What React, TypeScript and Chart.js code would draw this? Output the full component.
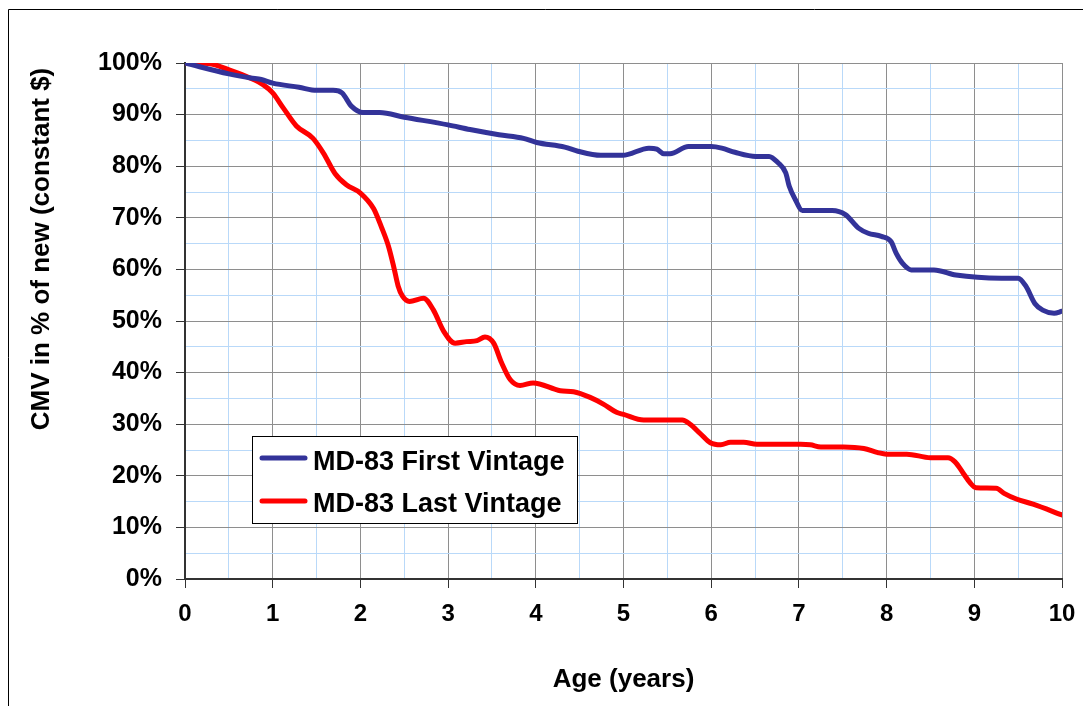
import React, { useEffect, useRef } from "react";
import { Chart, registerables } from "chart.js";

Chart.register(...registerables);

const FONT = "'Liberation Sans', Arial, Helvetica, sans-serif";

// Age in years and CMV as % of new (constant $)
const firstVintageAges = [
  0, 0.5, 0.75, 0.87, 1.0, 1.3, 1.5, 1.69, 1.79, 1.9, 2.03, 2.22, 2.5, 3.0, 3.25, 3.58, 3.86, 4.01,
  4.33, 4.48, 4.74, 4.99, 5.29, 5.38, 5.46, 5.53, 5.74, 6.0, 6.12, 6.27, 6.51, 6.66, 6.76, 6.85,
  6.89, 6.96, 7.04, 7.38, 7.53, 7.68, 7.79, 7.94, 8.05, 8.11, 8.18, 8.28, 8.54, 8.79, 9.31, 9.5,
  9.59, 9.69, 9.78, 9.91, 10.0,
];
const firstVintageValues = [
  100, 97.9, 97.1, 96.8, 96.1, 95.3, 94.7, 94.7, 94.2, 91.6, 90.4, 90.4, 89.5, 88.0, 87.1, 86.1, 85.4,
  84.6, 83.7, 82.9, 82.1, 82.1, 83.5, 83.3, 82.4, 82.4, 83.8, 83.8, 83.5, 82.7, 81.9, 81.9, 80.7,
  78.7, 76.1, 73.5, 71.4, 71.4, 70.6, 68.0, 67.0, 66.4, 65.4, 63.1, 61.2, 59.9, 59.9, 58.9, 58.3,
  58.3, 56.7, 53.4, 52.1, 51.5, 51.9,
];

const lastVintageAges = [
  0, 0.27, 0.51, 0.74, 0.89, 1.0, 1.12, 1.27, 1.46, 1.58, 1.71, 1.84, 2.0, 2.15, 2.24, 2.32, 2.38,
  2.43, 2.48, 2.56, 2.72, 2.83, 2.95, 3.08, 3.21, 3.33, 3.42, 3.52, 3.61, 3.71, 3.82, 3.97, 4.28,
  4.43, 4.62, 4.77, 4.92, 5.0, 5.23, 5.67, 5.76, 5.88, 5.99, 6.11, 6.22, 6.37, 6.52, 7.02, 7.13,
  7.25, 7.51, 7.74, 7.9, 8.0, 8.23, 8.5, 8.7, 8.78, 8.87, 8.95, 9.02, 9.25, 9.34, 9.48, 9.67, 10.0,
];
const lastVintageValues = [
  100, 99.9, 98.6, 97.1, 95.8, 94.2, 91.3, 87.8, 85.4, 82.5, 78.6, 76.4, 74.8, 71.8, 68.2, 64.5,
  60.5, 56.8, 54.8, 53.8, 54.4, 52.2, 48.0, 45.7, 46.0, 46.2, 46.9, 45.7, 41.9, 38.6, 37.5, 38.0,
  36.5, 36.3, 35.2, 33.9, 32.3, 31.9, 30.8, 30.8, 30.0, 28.1, 26.4, 26.0, 26.5, 26.5, 26.1, 26.1,
  26.0, 25.6, 25.6, 25.3, 24.5, 24.2, 24.2, 23.5, 23.5, 22.7, 20.6, 18.7, 17.7, 17.6, 16.6, 15.5,
  14.5, 12.4,
];

const seriesLabels = ["MD-83 First Vintage", "MD-83 Last Vintage"];
const seriesColors = ["#333399", "#FF0000"];

const xAxisTitle = "Age (years)";
const yAxisTitle = "CMV in % of new (constant $)";

const xMin = 0;
const xMax = 10;
const xStep = 0.5;
const yMin = 0;
const yMax = 100;
const yStep = 5;

const MAJOR_GRID = "#8e8e8e";
const MINOR_GRID = "#b9d9f9";
const AXIS_COLOR = "#333333";

const isMajor = (v: number, major: number) => Math.abs(v / major - Math.round(v / major)) < 1e-6;

const decorPlugin = {
  id: "decor",
  afterDraw(chart: any) {
    const ctx = chart.ctx as CanvasRenderingContext2D;
    ctx.save();
    // outer frame
    ctx.strokeStyle = "#000";
    ctx.lineWidth = 1;
    ctx.beginPath();
    ctx.moveTo(8.5, chart.height);
    ctx.lineTo(8.5, 9.5);
    ctx.lineTo(chart.width, 9.5);
    ctx.stroke();

    // y axis title
    ctx.save();
    ctx.translate(42, 249);
    ctx.rotate(-Math.PI / 2);
    ctx.font = `bold 26px ${FONT}`;
    ctx.fillStyle = "#000";
    ctx.textAlign = "center";
    ctx.textBaseline = "middle";
    ctx.fillText(yAxisTitle, 0, 0);
    ctx.restore();

    // legend
    const bx = 252.5, by = 436.5, bw = 325, bh = 87;
    ctx.fillStyle = "#fff";
    ctx.fillRect(bx, by, bw, bh);
    ctx.strokeStyle = "#000";
    ctx.lineWidth = 1;
    ctx.strokeRect(bx, by, bw, bh);
    const rows = [458, 501];
    const baselines = [470, 512];
    chart.data.datasets.forEach((ds: any, i: number) => {
      ctx.strokeStyle = ds.borderColor;
      ctx.lineWidth = 5;
      ctx.lineCap = "round";
      ctx.beginPath();
      ctx.moveTo(262, rows[i]);
      ctx.lineTo(305, rows[i]);
      ctx.stroke();
      ctx.fillStyle = "#000";
      ctx.font = `bold 27px ${FONT}`;
      ctx.textAlign = "left";
      ctx.textBaseline = "alphabetic";
      ctx.fillText(ds.label, 313, baselines[i]);
    });
    ctx.restore();
  },
};

export default function App() {
  const canvasRef = useRef<HTMLCanvasElement | null>(null);

  useEffect(() => {
    if (!canvasRef.current) return;
    const chart = new Chart(canvasRef.current, {
      type: "line",
      data: {
        datasets: [
          {
            label: seriesLabels[0],
            data: firstVintageAges.map((a, i) => ({ x: a, y: firstVintageValues[i] })),
            borderColor: seriesColors[0],
            backgroundColor: seriesColors[0],
            borderWidth: 5,
            pointRadius: 0,
            cubicInterpolationMode: "monotone",
            borderCapStyle: "round",
            borderJoinStyle: "round",
            fill: false,
          },
          {
            label: seriesLabels[1],
            data: lastVintageAges.map((a, i) => ({ x: a, y: lastVintageValues[i] })),
            borderColor: seriesColors[1],
            backgroundColor: seriesColors[1],
            borderWidth: 5,
            pointRadius: 0,
            cubicInterpolationMode: "monotone",
            borderCapStyle: "round",
            borderJoinStyle: "round",
            fill: false,
          },
        ],
      },
      options: {
        animation: false,
        responsive: false,
        maintainAspectRatio: false,
        devicePixelRatio: 1,
        layout: { padding: { left: 0, top: 63, right: 21, bottom: 0 } },
        plugins: {
          legend: { display: false },
          tooltip: { enabled: false },
        },
        scales: {
          x: {
            type: "linear",
            min: xMin,
            max: xMax,
            afterFit: (scale: any) => {
              scale.height = 127;
              scale.paddingLeft = 0;
              scale.paddingRight = 0;
            },
            ticks: {
              stepSize: xStep,
              autoSkip: false,
              maxRotation: 0,
              padding: 12,
              color: "#000",
              font: { family: FONT, size: 24, weight: "bold" },
              callback: (v: any) => (isMajor(Number(v), 1) ? String(v) : ""),
            },
            grid: {
              color: (c: any) => (c.tick && isMajor(c.tick.value, 1) ? MAJOR_GRID : MINOR_GRID),
              tickColor: (c: any) => (c.tick && isMajor(c.tick.value, 1) ? AXIS_COLOR : "rgba(0,0,0,0)"),
              tickLength: 9,
              lineWidth: 1,
            },
            border: { color: AXIS_COLOR, width: 2 },
            title: {
              display: true,
              text: xAxisTitle,
              color: "#000",
              font: { family: FONT, size: 26, weight: "bold" },
              padding: { top: 0, bottom: 11 },
            },
          },
          y: {
            type: "linear",
            min: yMin,
            max: yMax,
            afterFit: (scale: any) => {
              scale.width = 185;
              scale.paddingTop = 0;
              scale.paddingBottom = 0;
            },
            ticks: {
              stepSize: yStep,
              autoSkip: false,
              padding: 14,
              color: "#000",
              font: { family: FONT, size: 25, weight: "bold" },
              callback: (v: any) => (isMajor(Number(v), 10) ? `${v}%` : ""),
            },
            grid: {
              color: (c: any) => (c.tick && isMajor(c.tick.value, 10) ? MAJOR_GRID : MINOR_GRID),
              tickColor: (c: any) => (c.tick && isMajor(c.tick.value, 10) ? AXIS_COLOR : "rgba(0,0,0,0)"),
              tickLength: 9,
              lineWidth: 1,
            },
            border: { color: AXIS_COLOR, width: 2 },
          },
        },
      } as any,
      plugins: [decorPlugin],
    });
    return () => chart.destroy();
  }, []);

  return (
    <div style={{ position: "absolute", left: 0, top: 0, width: 1083, height: 706, background: "#fff" }}>
      <canvas ref={canvasRef} width={1083} height={706} style={{ width: 1083, height: 706, display: "block" }} />
    </div>
  );
}
